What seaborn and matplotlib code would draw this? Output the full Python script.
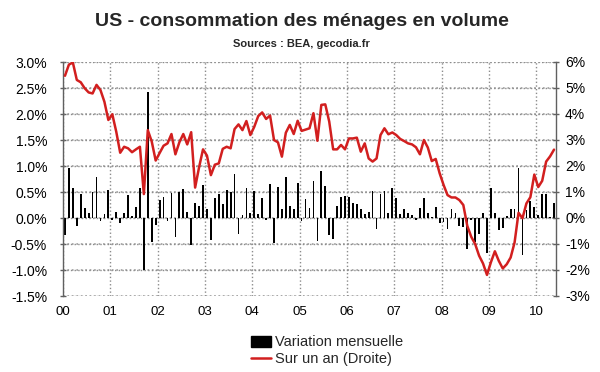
import numpy as np
import pandas as pd
import matplotlib
matplotlib.use("Agg")
import matplotlib.pyplot as plt
import seaborn as sns
from matplotlib.patches import Patch
from matplotlib.lines import Line2D

# ---- data (Jan 2000 .. May 2010, monthly) ----
months = pd.period_range("2000-01", periods=125, freq="M")

monthly_change = [
    -0.33, 0.97, 0.57, -0.15, 0.47, 0.20, 0.09, 0.50, 0.79, -0.05, 0.08, 0.53,
    -0.04, 0.12, -0.10, 0.10, 0.45, 0.04, 0.22, 0.57, -1.00, 2.42, -0.47, -0.14,
    0.34, 0.40, -0.05, 0.49, -0.37, 0.50, 0.55, 0.12, -0.51, 0.29, 0.24, 0.63,
    0.17, -0.42, 0.38, 0.47, 0.26, 0.54, 0.50, 0.85, -0.31, 0.05, 0.58, 0.10,
    0.52, 0.08, 0.39, -0.03, 0.65, -0.49, 0.59, 0.18, 0.78, 0.23, 0.18, 0.67,
    -0.06, 0.37, 0.19, 0.71, -0.44, 0.90, 0.61, -0.33, -0.40, 0.23, 0.40, 0.43,
    0.40, 0.29, 0.26, 0.18, 0.08, 0.11, 0.51, -0.22, 0.47, 0.51, 0.09, 0.58,
    0.38, 0.08, 0.18, 0.10, 0.06, -0.03, 0.19, 0.38, 0.09, 0.01, 0.22, -0.10,
    -0.08, -0.22, 0.18, 0.10, -0.15, -0.18, -0.60, -0.04, -0.47, -0.30, 0.09, -0.67,
    0.58, 0.09, -0.23, -0.19, 0.04, 0.18, 0.18, 0.96, -0.72, 0.15, 0.32, 0.21,
    0.05, 0.46, 0.46, 0.01, 0.28,
]

yoy_change = [
    5.47, 5.90, 5.98, 5.31, 5.22, 4.99, 4.83, 4.79, 5.12, 4.92, 4.47, 3.77,
    3.99, 3.32, 2.51, 2.74, 2.68, 2.53, 2.64, 2.74, 0.92, 3.38, 2.94, 2.21,
    2.50, 2.78, 2.87, 3.23, 2.45, 2.91, 3.23, 2.83, 3.30, 1.17, 1.95, 2.64,
    2.40, 1.65, 2.05, 2.10, 2.66, 2.74, 2.68, 3.42, 3.60, 3.38, 3.73, 3.19,
    3.51, 3.92, 4.06, 3.81, 3.94, 3.00, 2.91, 2.36, 3.28, 3.58, 3.23, 3.74,
    3.35, 3.40, 3.45, 4.03, 2.97, 4.35, 4.37, 3.71, 2.64, 2.64, 2.81, 2.64,
    3.06, 3.06, 3.09, 2.55, 2.87, 2.29, 2.17, 2.29, 3.19, 3.45, 3.22, 3.29,
    3.19, 3.04, 2.96, 2.87, 2.83, 2.72, 2.45, 3.00, 2.71, 2.19, 2.27, 1.72,
    1.27, 0.88, 0.79, 0.79, 0.69, 0.50, -0.30, -0.72, -1.00, -1.45, -1.75, -2.19,
    -1.70, -1.28, -1.65, -1.94, -1.78, -1.52, -0.94, 0.20, -0.01, 0.56, 0.80, 1.67,
    1.19, 1.43, 2.17, 2.37, 2.63,
]

year_labels = ["00", "01", "02", "03", "04", "05", "06", "07", "08", "09", "10"]
left_ticks = [-1.5, -1.0, -0.5, 0.0, 0.5, 1.0, 1.5, 2.0, 2.5, 3.0]
right_ticks = [-3, -2, -1, 0, 1, 2, 3, 4, 5, 6]

title = "US - consommation des ménages en volume"
subtitle = "Sources : BEA, gecodia.fr"
legend_labels = ["Variation mensuelle", "Sur un an (Droite)"]

# ---- style ----
sns.set_theme(style="white")
plt.rcParams["font.family"] = ["Liberation Sans", "DejaVu Sans"]

RED = "#d21f1f"
GRID = "#8c8c8c"
AXIS = "#606060"

month_pos = np.arange(len(months)) + 0.5
df = pd.DataFrame({"pos": month_pos, "monthly": monthly_change, "yoy": yoy_change})

fig = plt.figure(figsize=(6, 3.72), dpi=100)
fig.patch.set_facecolor("white")
ax = fig.add_axes([63 / 600, 1 - 296 / 372, (556 - 63) / 600, (296 - 62) / 372])

sns.barplot(data=df, x="pos", y="monthly", native_scale=True, color="black",
            width=0.45, errorbar=None, linewidth=0, saturation=1, ax=ax)

ax2 = ax.twinx()
sns.lineplot(data=df, x="pos", y="yoy", color=RED, linewidth=1.8, ax=ax2, legend=False)

ax.set_xlim(0, len(months))
ax.set_ylim(-1.5, 3.0)
ax2.set_ylim(-3, 6)

ax.set_xticks(np.arange(0, len(months), 12))
ax.set_xticklabels(year_labels, fontsize=9.5)
ax.set_yticks(left_ticks)
ax.set_yticklabels([f"{v:.1f}%" for v in left_ticks], fontsize=10)
ax2.set_yticks(right_ticks)
ax2.set_yticklabels([f"{v}%" for v in right_ticks], fontsize=10)

ax.set_xlabel("")
ax.set_ylabel("")
ax2.set_xlabel("")
ax2.set_ylabel("")

for a in (ax, ax2):
    for s in ("top", "bottom"):
        a.spines[s].set_visible(False)
ax.spines["right"].set_visible(False)
ax2.spines["left"].set_visible(False)
ax.spines["left"].set_color(AXIS)
ax2.spines["right"].set_color(AXIS)
ax.spines["left"].set_linewidth(1.0)
ax2.spines["right"].set_linewidth(1.0)

ax.tick_params(axis="x", length=0, pad=7, colors="black")
ax.tick_params(axis="y", direction="inout", length=5, width=1, color=AXIS, pad=9, labelcolor="black")
ax2.tick_params(axis="y", direction="inout", length=5, width=1, color=AXIS, pad=4, labelcolor="black")

ax.set_axisbelow(True)
ax.xaxis.grid(True, color=GRID, linestyle=":", linewidth=1.0)
ax.yaxis.grid(True, color=GRID, linestyle=":", linewidth=1.0)
ax2.grid(False)
# explicit horizontal reference lines at the left-axis ticks (dotted grid)
for t in left_ticks:
    ax.axhline(t, color=GRID, linestyle=(0, (1.2, 2.0)), linewidth=1.0, zorder=0.6, snap=False)

fig.text(0.503, 1 - 22 / 372, title, ha="center", va="center", fontsize=14, fontweight="bold")
fig.text(0.503, 1 - 44 / 372, subtitle, ha="center", va="center", fontsize=8, fontweight="bold")

handles = [Patch(facecolor="black", edgecolor="black"), Line2D([], [], color=RED, linewidth=1.8)]
fig.legend(handles, legend_labels, loc="upper center", bbox_to_anchor=(327 / 600, 1 - 325 / 372),
           frameon=False, fontsize=10.5, handlelength=1.4, handleheight=0.8,
           handletextpad=0.3, labelspacing=0.2, borderpad=0.2)

fig.savefig("out.png", dpi=100, facecolor="white")
